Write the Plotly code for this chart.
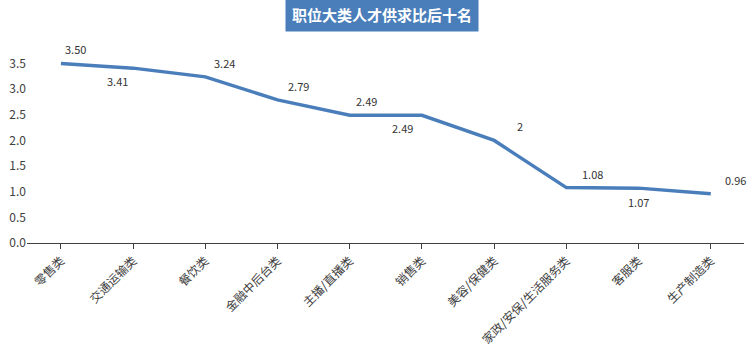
import plotly.graph_objects as go

categories = ["零售类", "交通运输类", "餐饮类", "金融中后台类", "主播/直播类", "销售类",
              "美容/保健类", "家政/安保/生活服务类", "客服类", "生产制造类"]
values = [3.50, 3.41, 3.24, 2.79, 2.49, 2.49, 2, 1.08, 1.07, 0.96]
labels = ["3.50", "3.41", "3.24", "2.79", "2.49", "2.49", "2", "1.08", "1.07", "0.96"]
y_ticks = [0.0, 0.5, 1.0, 1.5, 2.0, 2.5, 3.0, 3.5]

# label offsets (style): (xshift, yshift) in px
label_shift = [(15, 15), (-16, -13), (19, 14), (21, 14), (17, 14), (-19, -13),
               (26, 14), (26, 14), (0, -14), (25, 14)]

FONT = "Noto Sans CJK SC, Noto Sans, sans-serif"
BLUE = "#4a7ebb"

fig = go.Figure()
fig.add_trace(go.Scatter(
    x=list(range(len(categories))), y=values, mode="lines",
    line=dict(color=BLUE, width=3.5), hoverinfo="skip"))

annotations = []
for i, (v, t) in enumerate(zip(values, labels)):
    dx, dy = label_shift[i]
    annotations.append(dict(x=i, y=v, text=t, showarrow=False, xshift=dx, yshift=dy,
                            font=dict(size=11, color="#333333", family=FONT)))
annotations.append(dict(xref="paper", yref="paper", x=0.495, y=1, yanchor="bottom",
                        yshift=11, text="<b>职位大类人才供求比后十名</b>", showarrow=False,
                        bgcolor=BLUE, borderpad=6,
                        font=dict(size=15, color="white", family=FONT)))

fig.update_layout(
    width=750, height=353, margin=dict(l=27, r=6, t=43, b=106),
    paper_bgcolor="white", plot_bgcolor="white", showlegend=False,
    annotations=annotations,
    font=dict(family=FONT, color="#404040", size=12),
    xaxis=dict(tickmode="array", tickvals=list(range(len(categories))), ticktext=categories,
               range=[-0.47, 9.46], tickangle=-45, showgrid=False, zeroline=False,
               showline=True, linecolor="#404040", linewidth=1,
               ticks="outside", ticklen=5, tickcolor="#404040",
               tickfont=dict(size=12, color="#404040", family=FONT)),
    yaxis=dict(range=[0, 3.9], tickvals=y_ticks, ticktext=[f"{t:.1f}" for t in y_ticks],
               showgrid=False, zeroline=False, showline=False,
               tickfont=dict(size=12, color="#404040", family=FONT)),
)

fig.write_html("out.html")
